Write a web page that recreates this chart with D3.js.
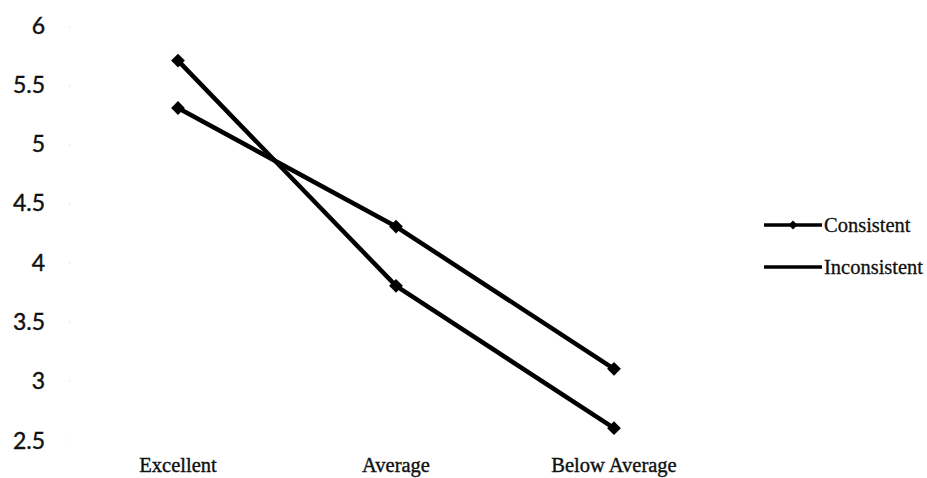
<!DOCTYPE html>
<html><head><meta charset="utf-8">
<script src="https://cdn.jsdelivr.net/npm/d3@7"></script>
<style>body{margin:0;background:#fff}svg{display:block}</style>
</head><body>
<svg id="c" width="927" height="478"></svg>
<script>
const categories = ["Excellent", "Average", "Below Average"];
const consistent = [5.7, 3.8, 2.6];
const inconsistent = [5.3, 4.3, 3.1];
const seriesNames = ["Consistent", "Inconsistent"];
const yTicks = [2.5, 3, 3.5, 4, 4.5, 5, 5.5, 6];

const svg = d3.select("#c");
const x = d3.scaleBand().domain(categories).range([69, 723]);
const y = d3.scaleLinear().domain([2.5, 6]).range([440, 25]);

// y axis (faint dotted)
const ya = svg.append("g").attr("transform", "translate(69,0)")
  .call(d3.axisLeft(y).tickValues(yTicks).tickSize(0).tickPadding(24)
    .tickFormat(d => String(d)));
ya.select(".domain").attr("stroke", "#ccc").attr("stroke-dasharray", "1,58").attr("stroke-width", 1);
ya.selectAll("text").attr("font-family", "Lato, 'Open Sans', sans-serif").attr("font-size", 23)
  .attr("fill", "#111").attr("stroke", "#111").attr("stroke-width", 0.4).attr("dy", "0.35em");

// x axis labels
const xa = svg.append("g").attr("transform", "translate(0,440)")
  .call(d3.axisBottom(x).tickSize(0).tickPadding(17));
xa.select(".domain").remove();
xa.selectAll("text").attr("font-family", "'Liberation Serif', 'Times New Roman', serif")
  .attr("font-size", 20.5).attr("fill", "#111").attr("stroke", "#111").attr("stroke-width", 0.4);

const cx = d => x(d) + x.bandwidth() / 2;
const line = d3.line().x((d, i) => cx(categories[i])).y(d => y(d));
const series = [consistent, inconsistent];
const marker = d3.symbol().type(d3.symbolSquare).size(95);

series.forEach(vals => {
  svg.append("path").datum(vals).attr("d", line).attr("fill", "none")
    .attr("stroke", "#000").attr("stroke-width", 4.5).attr("stroke-linejoin", "round");
  svg.selectAll(null).data(vals).enter().append("path")
    .attr("d", marker)
    .attr("transform", (d, i) => `translate(${cx(categories[i])},${y(d)}) rotate(45)`)
    .attr("fill", "#000");
});

// legend
const lg = svg.append("g");
seriesNames.forEach((n, i) => {
  const yy = 225 + i * 42;
  lg.append("line").attr("x1", 764).attr("x2", 822).attr("y1", yy).attr("y2", yy)
    .attr("stroke", "#000").attr("stroke-width", 3.5);
  if (i === 0) lg.append("path").attr("d", d3.symbol().type(d3.symbolSquare).size(40))
    .attr("transform", `translate(793,${yy}) rotate(45)`).attr("fill", "#000");
  lg.append("text").attr("x", 824).attr("y", yy).attr("dy", "0.35em")
    .attr("font-family", "'Liberation Serif', 'Times New Roman', serif").attr("font-size", 20.5)
    .attr("fill", "#111").attr("stroke", "#111").attr("stroke-width", 0.3).text(n);
});
</script>
</body></html>
